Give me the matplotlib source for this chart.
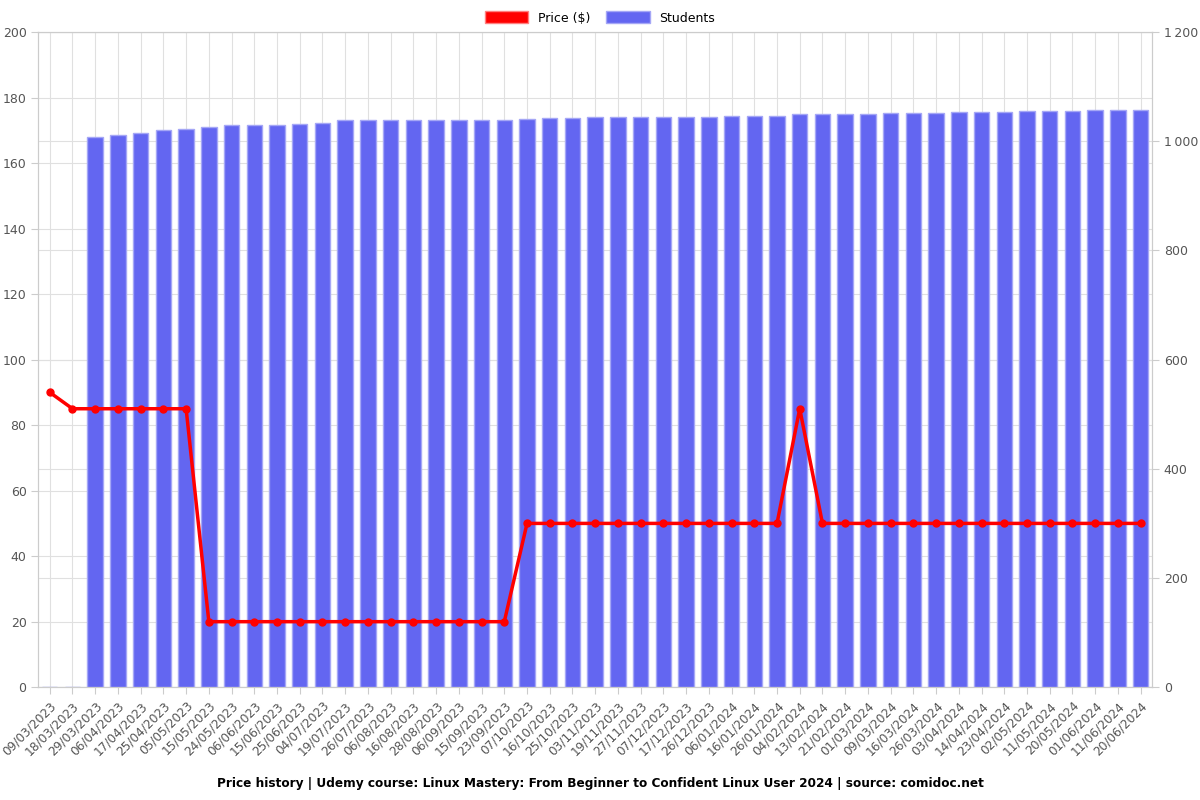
import matplotlib
matplotlib.use("Agg")
import matplotlib.pyplot as plt
from matplotlib.patches import Patch
from matplotlib.ticker import FuncFormatter

dates = ["09/03/2023", "18/03/2023", "29/03/2023", "06/04/2023", "17/04/2023", "25/04/2023",
         "05/05/2023", "15/05/2023", "24/05/2023", "06/06/2023", "15/06/2023", "25/06/2023",
         "04/07/2023", "19/07/2023", "26/07/2023", "06/08/2023", "16/08/2023", "28/08/2023",
         "06/09/2023", "15/09/2023", "23/09/2023", "07/10/2023", "16/10/2023", "25/10/2023",
         "03/11/2023", "19/11/2023", "27/11/2023", "07/12/2023", "17/12/2023", "26/12/2023",
         "06/01/2024", "16/01/2024", "26/01/2024", "04/02/2024", "13/02/2024", "21/02/2024",
         "01/03/2024", "09/03/2024", "16/03/2024", "26/03/2024", "03/04/2024", "14/04/2024",
         "23/04/2024", "02/05/2024", "11/05/2024", "20/05/2024", "01/06/2024", "11/06/2024",
         "20/06/2024"]

prices = [90, 85, 85, 85, 85, 85, 85,
          20, 20, 20, 20, 20, 20, 20, 20, 20, 20, 20, 20, 20, 20,
          50, 50, 50, 50, 50, 50, 50, 50, 50, 50, 50, 50,
          85,
          50, 50, 50, 50, 50, 50, 50, 50, 50, 50, 50, 50, 50, 50, 50]

students = [0, 1, 1007, 1012, 1015, 1020, 1023, 1026, 1029, 1029, 1030, 1031,
            1034, 1038, 1038, 1038, 1038, 1038, 1038, 1038, 1039, 1041, 1042, 1042,
            1044, 1045, 1045, 1045, 1045, 1045, 1046, 1047, 1047, 1050, 1050, 1050,
            1050, 1051, 1052, 1052, 1053, 1053, 1054, 1055, 1056, 1056, 1057, 1057,
            1057]

title = "Price history | Udemy course: Linux Mastery: From Beginner to Confident Linux User 2024 | source: comidoc.net"

fig = plt.figure(figsize=(12, 8), dpi=100)
ax = fig.add_axes([0.032, 0.141, 0.928, 0.819])
ax2 = ax.twinx()

x = list(range(len(dates)))
bar_color = "#6366f1"
grid_color = "#e0e0e0"

# left axis: grid only (bottom layer)
ax.set_ylim(0, 200)
ax.set_yticks(range(0, 201, 20))
ax.set_xlim(-0.5, len(dates) - 0.5)
ax.set_xticks(x)
ax.set_xticklabels(dates, rotation=45, ha="right", rotation_mode="anchor")
ax.grid(True, color=grid_color, linewidth=0.8)
ax.set_axisbelow(True)

# right axis: bars, plus the price line drawn in left-axis data coordinates on top
ax2.bar(x, students, width=0.68, color=bar_color, edgecolor="#a5a7f6", linewidth=1, zorder=2)
ax2.plot(x, prices, color="#ff0000", linewidth=2.5, marker="o", markersize=5,
         zorder=5, transform=ax.transData)
ax2.set_ylim(0, 1200)
ax2.set_xlim(-0.5, len(dates) - 0.5)
ax2.set_yticks(range(0, 1201, 200))
ax2.yaxis.set_major_formatter(FuncFormatter(lambda v, p: f"{int(v):,}".replace(",", "\u2009")))
ax2.grid(True, axis="y", color=grid_color, linewidth=0.8, zorder=0)
ax2.set_axisbelow(True)

for a in (ax, ax2):
    for s in a.spines.values():
        s.set_color("#cccccc")
    a.tick_params(colors="#cccccc", labelcolor="#555555", labelsize=9, length=5)
ax.tick_params(axis="x", labelsize=8.7)

handles = [Patch(facecolor="#ff0000", edgecolor="#ff8080", label="Price ($)"),
           Patch(facecolor=bar_color, edgecolor="#a5a7f6", label="Students")]
fig.legend(handles=handles, loc="upper center", bbox_to_anchor=(0.5, 1.0), ncol=2,
           frameon=False, fontsize=9, handlelength=3.5, handleheight=1.1, columnspacing=1.2)

fig.text(0.5, 0.021, title, ha="center", va="center", fontsize=8.7, fontweight="bold")

fig.savefig("out.png", dpi=100)
